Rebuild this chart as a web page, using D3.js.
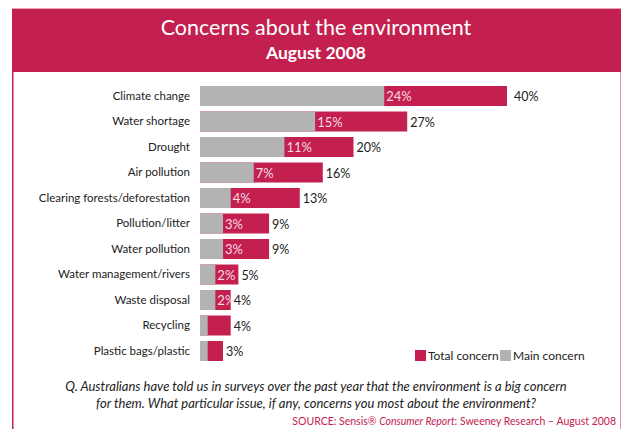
<!DOCTYPE html>
<html>
<head>
<meta charset="utf-8">
<script src="https://cdn.jsdelivr.net/npm/d3@7"></script>
<style>
  html, body { margin: 0; padding: 0; background: #fff; }
  svg { display: block; }
  text { font-family: Lato, "Open Sans", sans-serif; }
</style>
</head>
<body>
<svg id="chart" width="623" height="429"></svg>
<script>
// Survey results: share of respondents naming each issue
const categories = [
  "Climate change", "Water shortage", "Drought", "Air pollution",
  "Clearing forests/deforestation", "Pollution/litter", "Water pollution",
  "Water management/rivers", "Waste disposal", "Recycling", "Plastic bags/plastic"
];
const mainConcern  = [24, 15, 11, 7, 4, 3, 3, 2, 2, 1, 1];
const totalConcern = [40, 27, 20, 16, 13, 9, 9, 5, 4, 4, 3];
const legendLabels = ["Total concern", "Main concern"];

const titleText = "Concerns about the environment";
const subtitleText = "August 2008";
const questionLines = [
  "Q. Australians have told us in surveys over the past year that the environment is a big concern",
  "for them. What particular issue, if any, concerns you most about the environment?"
];

const CRIMSON = "#c4204f";
const GREY = "#b3b3b3";

const rows = categories.map((c, i) => ({ name: c, main: mainConcern[i], total: totalConcern[i] }));

const svg = d3.select("#chart");

// Frame: crimson header band and thin side rules
svg.append("rect").attr("x", 12).attr("y", 8).attr("width", 609).attr("height", 64).attr("fill", CRIMSON);
svg.append("line").attr("x1", 12).attr("x2", 621).attr("y1", 8.5).attr("y2", 8.5)
  .attr("stroke", "#e9a3b6").attr("stroke-width", 1);
svg.append("line").attr("x1", 12.75).attr("x2", 12.75).attr("y1", 72).attr("y2", 429)
  .attr("stroke", CRIMSON).attr("stroke-width", 1.5);
svg.append("line").attr("x1", 620.5).attr("x2", 620.5).attr("y1", 72).attr("y2", 429)
  .attr("stroke", "#e58aa4").attr("stroke-width", 1);

svg.append("text").attr("x", 316).attr("y", 35).attr("text-anchor", "middle")
  .attr("fill", "#fff").attr("font-size", 21.5).text(titleText);
svg.append("text").attr("x", 316).attr("y", 59).attr("text-anchor", "middle")
  .attr("fill", "#fff").attr("font-size", 17.5).attr("font-weight", "bold").text(subtitleText);

// Scales
const x = d3.scaleLinear().domain([0, 40]).range([200, 507]);
const y = d3.scaleBand().domain(categories)
  .range([83.25, 83.25 + 11 * 25.5]).paddingInner(0.216).paddingOuter(0.108);

const g = svg.append("g");

// Category axis (labels only)
const yAxis = g.append("g").attr("transform", "translate(192,0)")
  .call(d3.axisLeft(y).tickSize(0).tickPadding(2));
yAxis.select(".domain").remove();
yAxis.selectAll("text").attr("font-size", 11.5).attr("fill", "#222")
  .style("font-family", 'Lato, sans-serif');

// Total concern (crimson) drawn full length, main concern (grey) over it
g.selectAll("rect.total").data(rows).join("rect").attr("class", "total")
  .attr("x", x(0)).attr("y", d => y(d.name))
  .attr("width", d => x(d.total) - x(0)).attr("height", y.bandwidth())
  .attr("fill", CRIMSON);
g.selectAll("rect.main").data(rows).join("rect").attr("class", "main")
  .attr("x", x(0)).attr("y", d => y(d.name))
  .attr("width", d => x(d.main) - x(0)).attr("height", y.bandwidth())
  .attr("fill", GREY);

// Clip regions for the in-bar labels so they stay on the crimson segment
const defs = svg.append("defs");
rows.forEach((d, i) => {
  defs.append("clipPath").attr("id", "seg" + i).append("rect")
    .attr("x", x(d.main)).attr("y", y(d.name))
    .attr("width", x(d.total) - x(d.main)).attr("height", y.bandwidth());
});

g.selectAll("text.mainLbl").data(rows.filter(d => d.main >= 2)).join("text")
  .attr("class", "mainLbl")
  .attr("clip-path", d => `url(#seg${rows.indexOf(d)})`)
  .attr("x", d => x(d.main) + 2).attr("y", d => y(d.name) + y.bandwidth() / 2 + 5)
  .attr("font-size", 13).attr("fill", "#f7dbe3").text(d => d.main + "%");

g.selectAll("text.totalLbl").data(rows).join("text").attr("class", "totalLbl")
  .attr("x", d => x(d.total) + (d.total >= 40 ? 7 : 3))
  .attr("y", d => y(d.name) + y.bandwidth() / 2 + 5)
  .attr("font-size", 12.5).attr("fill", "#222").text(d => d.total + "%");

// Legend
const legend = svg.append("g").attr("transform", "translate(415,350)");
const legendColors = [CRIMSON, GREY];
const legendX = [0, 85];
legendLabels.forEach((lbl, i) => {
  legend.append("rect").attr("x", legendX[i]).attr("y", 0).attr("width", 11).attr("height", 11)
    .attr("fill", legendColors[i]);
  legend.append("text").attr("x", legendX[i] + 13).attr("y", 10).attr("font-size", 12)
    .attr("fill", "#222").text(lbl);
});

// Question text and source
questionLines.forEach((line, i) => {
  svg.append("text").attr("x", 316).attr("y", 391 + i * 17).attr("text-anchor", "middle")
    .attr("font-size", 13).attr("font-style", "italic").attr("fill", "#222").text(line);
});

const src = svg.append("text").attr("x", 616).attr("y", 425).attr("text-anchor", "end")
  .attr("font-size", 10.5).attr("fill", CRIMSON);
src.append("tspan").text("SOURCE: Sensis® ");
src.append("tspan").attr("font-style", "italic").text("Consumer Report");
src.append("tspan").text(": Sweeney Research – August 2008");
</script>
</body>
</html>
